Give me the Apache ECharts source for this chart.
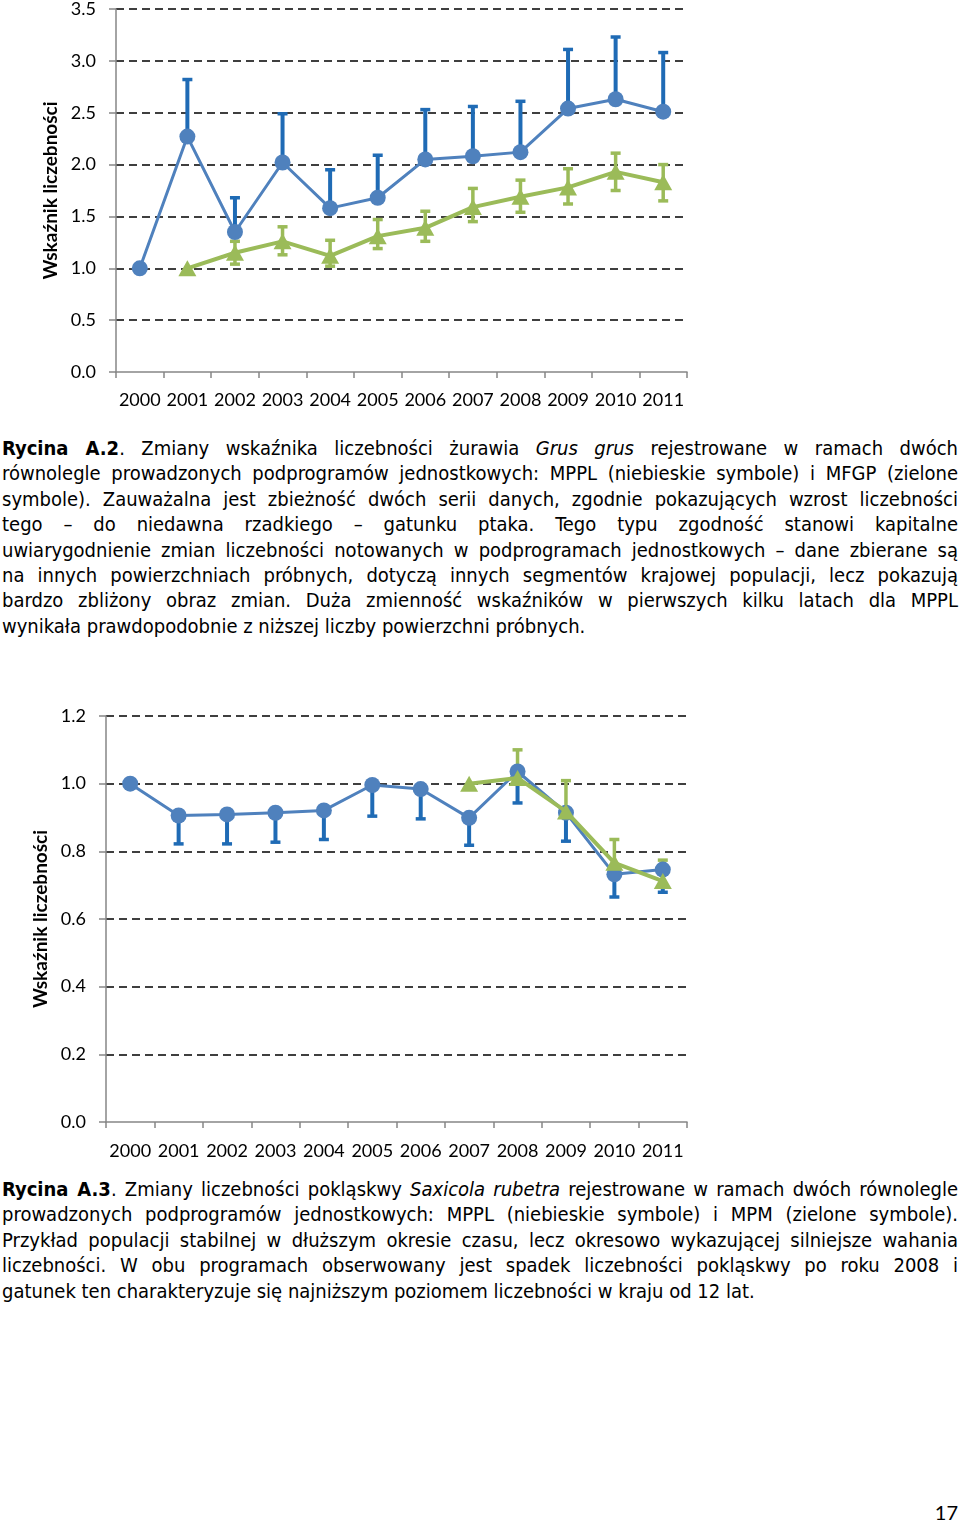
<!DOCTYPE html>
<html>
<head>
<meta charset="utf-8">
<script src="https://cdn.jsdelivr.net/npm/echarts@6/dist/echarts.min.js"></script>
<style>
  html, body { margin:0; padding:0; background:#fff; }
  #page { position:relative; width:960px; height:1523px; overflow:hidden; }
  .chart { position:absolute; left:0; width:960px; }
  .cap { position:absolute; left:2px; width:956px; font-family:"DejaVu Sans Condensed","DejaVu Sans",sans-serif; font-stretch:condensed; font-size:20px; line-height:25.4px; color:#000; }
  .cap div { text-align:justify; text-align-last:justify; white-space:nowrap; }
  .cap div.last { text-align-last:left; }
  #pnum { position:absolute; right:2px; top:1500px; font-family:Lato,"Open Sans",sans-serif; font-size:20px; }
</style>
</head>
<body>
<div id="page">
  <div id="c1" class="chart" style="top:0;height:420px;"></div>
  <div class="cap" style="top:436px;">
    <div><b>Rycina A.2</b>. Zmiany wskaźnika liczebności żurawia <i>Grus grus</i> rejestrowane w ramach dwóch</div>
    <div>równolegle prowadzonych podprogramów jednostkowych: MPPL (niebieskie symbole) i MFGP (zielone</div>
    <div>symbole). Zauważalna jest zbieżność dwóch serii danych, zgodnie pokazujących wzrost liczebności</div>
    <div>tego – do niedawna rzadkiego – gatunku ptaka. Tego typu zgodność stanowi kapitalne</div>
    <div>uwiarygodnienie zmian liczebności notowanych w podprogramach jednostkowych – dane zbierane są</div>
    <div>na innych powierzchniach próbnych, dotyczą innych segmentów krajowej populacji, lecz pokazują</div>
    <div>bardzo zbliżony obraz zmian. Duża zmienność wskaźników w pierwszych kilku latach dla MPPL</div>
    <div class="last">wynikała prawdopodobnie z niższej liczby powierzchni próbnych.</div>
  </div>
  <div id="c2" class="chart" style="top:690px;height:480px;"></div>
  <div class="cap" style="top:1177px;">
    <div><b>Rycina A.3</b>. Zmiany liczebności pokląskwy <i>Saxicola rubetra</i> rejestrowane w ramach dwóch równolegle</div>
    <div>prowadzonych podprogramów jednostkowych: MPPL (niebieskie symbole) i MPM (zielone symbole).</div>
    <div>Przykład populacji stabilnej w dłuższym okresie czasu, lecz okresowo wykazującej silniejsze wahania</div>
    <div>liczebności. W obu programach obserwowany jest spadek liczebności pokląskwy po roku 2008 i</div>
    <div class="last">gatunek ten charakteryzuje się najniższym poziomem liczebności w kraju od 12 lat.</div>
  </div>
  <div id="pnum">17</div>
</div>
<script>
// ---- data ----
var years = ['2000','2001','2002','2003','2004','2005','2006','2007','2008','2009','2010','2011'];
var yTitle = 'Wskaźnik liczebności';

// Chart A.2 (Grus grus)
var mpplA      = [1.00, 2.27, 1.35, 2.02, 1.58, 1.68, 2.05, 2.08, 2.12, 2.54, 2.63, 2.51];
var mpplAHigh  = [null, 2.82, 1.68, 2.49, 1.95, 2.09, 2.53, 2.56, 2.61, 3.11, 3.23, 3.08];
var mfgpA      = [null, 1.00, 1.15, 1.26, 1.12, 1.31, 1.39, 1.59, 1.69, 1.78, 1.93, 1.83];
var mfgpALow   = [null, null, 1.04, 1.13, 1.02, 1.19, 1.26, 1.45, 1.54, 1.62, 1.75, 1.65];
var mfgpAHigh  = [null, null, 1.26, 1.40, 1.27, 1.47, 1.55, 1.77, 1.85, 1.96, 2.11, 2.00];

// Chart A.3 (Saxicola rubetra)
var mpplB      = [1.00, 0.906, 0.909, 0.914, 0.921, 0.996, 0.984, 0.899, 1.036, 0.914, 0.732, 0.746];
var mpplBLow   = [null, 0.822, 0.822, 0.827, 0.835, 0.904, 0.896, 0.818, 0.943, 0.830, 0.665, 0.679];
var mpmB       = [null, null, null, null, null, null, null, 1.00, 1.017, 0.918, 0.766, 0.712];
var mpmBHigh   = [null, null, null, null, null, null, null, null, 1.10, 1.009, 0.835, 0.774];

// ---- styles ----
var BLUE = '#4F81BD', BLUE_ERR = '#1F6BB5', GREEN = '#9BBB59';
var LABEL_FONT = 'Lato, "Open Sans", sans-serif';

function errData(lo, hi) {
  var out = [];
  for (var i = 0; i < years.length; i++) {
    if (lo[i] != null && hi[i] != null) out.push([i, lo[i], hi[i]]);
  }
  return out;
}
function errSeries(data, color, capTop, capBottom, width) {
  return {
    type: 'custom', data: data, z: 3, silent: true,
    encode: { x: 0, y: [1, 2] },
    renderItem: function (params, api) {
      var x = api.value(0), lo = api.value(1), hi = api.value(2);
      var a = api.coord([x, lo]), b = api.coord([x, hi]);
      var hw = 5;
      var ch = [{ type: 'line', shape: { x1: a[0], y1: a[1], x2: b[0], y2: b[1] }, style: { stroke: color, lineWidth: width } }];
      if (capTop) ch.push({ type: 'line', shape: { x1: b[0] - hw, y1: b[1], x2: b[0] + hw, y2: b[1] }, style: { stroke: color, lineWidth: 3.5 } });
      if (capBottom) ch.push({ type: 'line', shape: { x1: a[0] - hw, y1: a[1], x2: a[0] + hw, y2: a[1] }, style: { stroke: color, lineWidth: 3.5 } });
      return { type: 'group', children: ch };
    }
  };
}
function val(arr) { return arr.map(function (v) { return v == null ? '-' : v; }); }

function baseOption(grid, max, interval, labelMargin) {
  return {
    animation: false,
    grid: grid,
    xAxis: {
      type: 'category', data: years, boundaryGap: true,
      axisLine: { show: true, lineStyle: { color: '#868686', width: 1.5 } },
      axisTick: { show: true, length: 6, interval: 0, lineStyle: { color: '#868686', width: 1.5 } },
      axisLabel: { color: '#000', fontFamily: LABEL_FONT, fontSize: 18, margin: labelMargin, interval: 0 }
    },
    yAxis: {
      type: 'value', min: 0, max: max, interval: interval,
      name: yTitle, nameLocation: 'middle', nameGap: 55, nameRotate: 90,
      nameTextStyle: { color: '#000', fontFamily: LABEL_FONT, fontSize: 19, fontWeight: 'bold' },
      axisLine: { show: true, lineStyle: { color: '#868686', width: 1.5 } },
      axisTick: { show: true, length: 7, lineStyle: { color: '#868686', width: 1.5 } },
      axisLabel: { color: '#000', fontFamily: LABEL_FONT, fontSize: 18, margin: 20,
        formatter: function (v) { return v.toFixed(1); } },
      splitLine: { show: true, showMinLine: false, lineStyle: { color: '#000', width: 1.5, type: [8, 5] } }
    },
    series: []
  };
}

// Chart 1
var o1 = baseOption({ left: 116, top: 9, width: 571, height: 363 }, 3.5, 0.5, 19);
o1.series = [
  errSeries(errData(mpplA, mpplAHigh), BLUE_ERR, true, false, 4),
  { type: 'line', data: val(mpplA), symbol: 'circle', symbolSize: 16, z: 4,
    lineStyle: { color: BLUE, width: 3 }, itemStyle: { color: BLUE } },
  { type: 'line', data: val(mfgpA), symbol: 'triangle', symbolSize: [18, 16], z: 5,
    lineStyle: { color: GREEN, width: 4 }, itemStyle: { color: GREEN } },
  errSeries(errData(mfgpALow, mfgpAHigh), GREEN, true, true, 3.5)
];
echarts.init(document.getElementById('c1'), null, { renderer: 'canvas' }).setOption(o1);

// Chart 2
var o2 = baseOption({ left: 106, top: 26, width: 581, height: 406 }, 1.2, 0.2, 20);
o2.series = [
  errSeries(errData(mpplBLow, mpplB), BLUE_ERR, false, true, 4),
  { type: 'line', data: val(mpplB), symbol: 'circle', symbolSize: 16, z: 4,
    lineStyle: { color: BLUE, width: 3 }, itemStyle: { color: BLUE } },
  errSeries(errData(mpmB, mpmBHigh), GREEN, true, false, 3.5),
  { type: 'line', data: val(mpmB), symbol: 'triangle', symbolSize: [18, 16], z: 5,
    lineStyle: { color: GREEN, width: 4 }, itemStyle: { color: GREEN } }
];
echarts.init(document.getElementById('c2'), null, { renderer: 'canvas' }).setOption(o2);
</script>
</body>
</html>
